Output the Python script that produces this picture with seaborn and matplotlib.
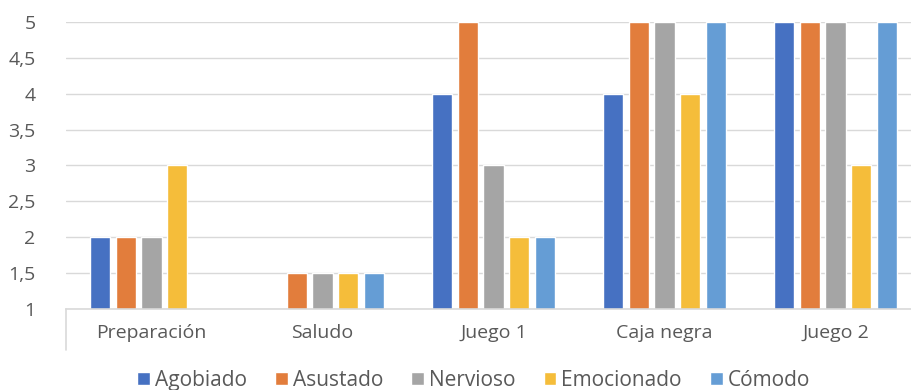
import numpy as np
import pandas as pd
import seaborn as sns
import matplotlib
matplotlib.use("Agg")
import matplotlib.pyplot as plt
from matplotlib.ticker import FuncFormatter

categories = ["Preparación", "Saludo", "Juego 1", "Caja negra", "Juego 2"]
series = ["Agobiado", "Asustado", "Nervioso", "Emocionado", "Cómodo"]
agobiado = [2, np.nan, 4, 4, 5]
asustado = [2, 1.5, 5, 5, 5]
nervioso = [2, 1.5, 3, 5, 5]
emocionado = [3, 1.5, 2, 4, 3]
comodo = [np.nan, 1.5, 2, 5, 5]
colors = ["#4671C2", "#E27D3C", "#A5A5A5", "#F5BD3A", "#659DD5"]

rows = []
for name, vals in zip(series, [agobiado, asustado, nervioso, emocionado, comodo]):
    for c, v in zip(categories, vals):
        rows.append({"cat": c, "serie": name, "valor": v})
df = pd.DataFrame(rows)

sns.set_theme(style="white")
plt.rcParams["font.family"] = ["Open Sans", "DejaVu Sans"]

fig = plt.figure(figsize=(9.11, 3.9), dpi=100)
ax = fig.add_axes([66 / 911, 81 / 390, 855 / 911, 287 / 390])

sns.barplot(data=df, x="cat", y="valor", hue="serie", order=categories,
            hue_order=series, palette=colors, width=0.76, gap=0.23,
            saturation=1, ax=ax, legend=True)

ax.set_ylim(1, 5)
ax.set_xlim(-0.5, 4.5)
ax.set_yticks(np.arange(1, 5.01, 0.5))
ax.yaxis.set_major_formatter(FuncFormatter(
    lambda v, p: (f"{v:g}").replace(".", ",")))
ax.grid(axis="y", color="#D9D9D9", linewidth=1)
ax.set_axisbelow(True)
for s in ["top", "right", "left"]:
    ax.spines[s].set_visible(False)
ax.spines["bottom"].set_color("#D9D9D9")
ax.spines["bottom"].set_linewidth(1.2)
ax.plot([-0.5, -0.5], [1, 0.43], color="#D9D9D9", lw=1.2, clip_on=False)
ax.tick_params(axis="both", length=0, labelsize=14, labelcolor="#595959")
ax.tick_params(axis="y", pad=22)
ax.tick_params(axis="x", pad=11)
ax.set_xlabel("")
ax.set_ylabel("")

handles, labels = ax.get_legend_handles_labels()
ax.legend_.remove()
fig.legend(handles, labels, loc="lower center", bbox_to_anchor=(0.52, -0.05),
           ncol=5, frameon=False, fontsize=15, handlelength=0.6,
           handleheight=0.6, handletextpad=0.25, columnspacing=1.35,
           labelcolor="#595959")

fig.savefig("out.png", dpi=100)
